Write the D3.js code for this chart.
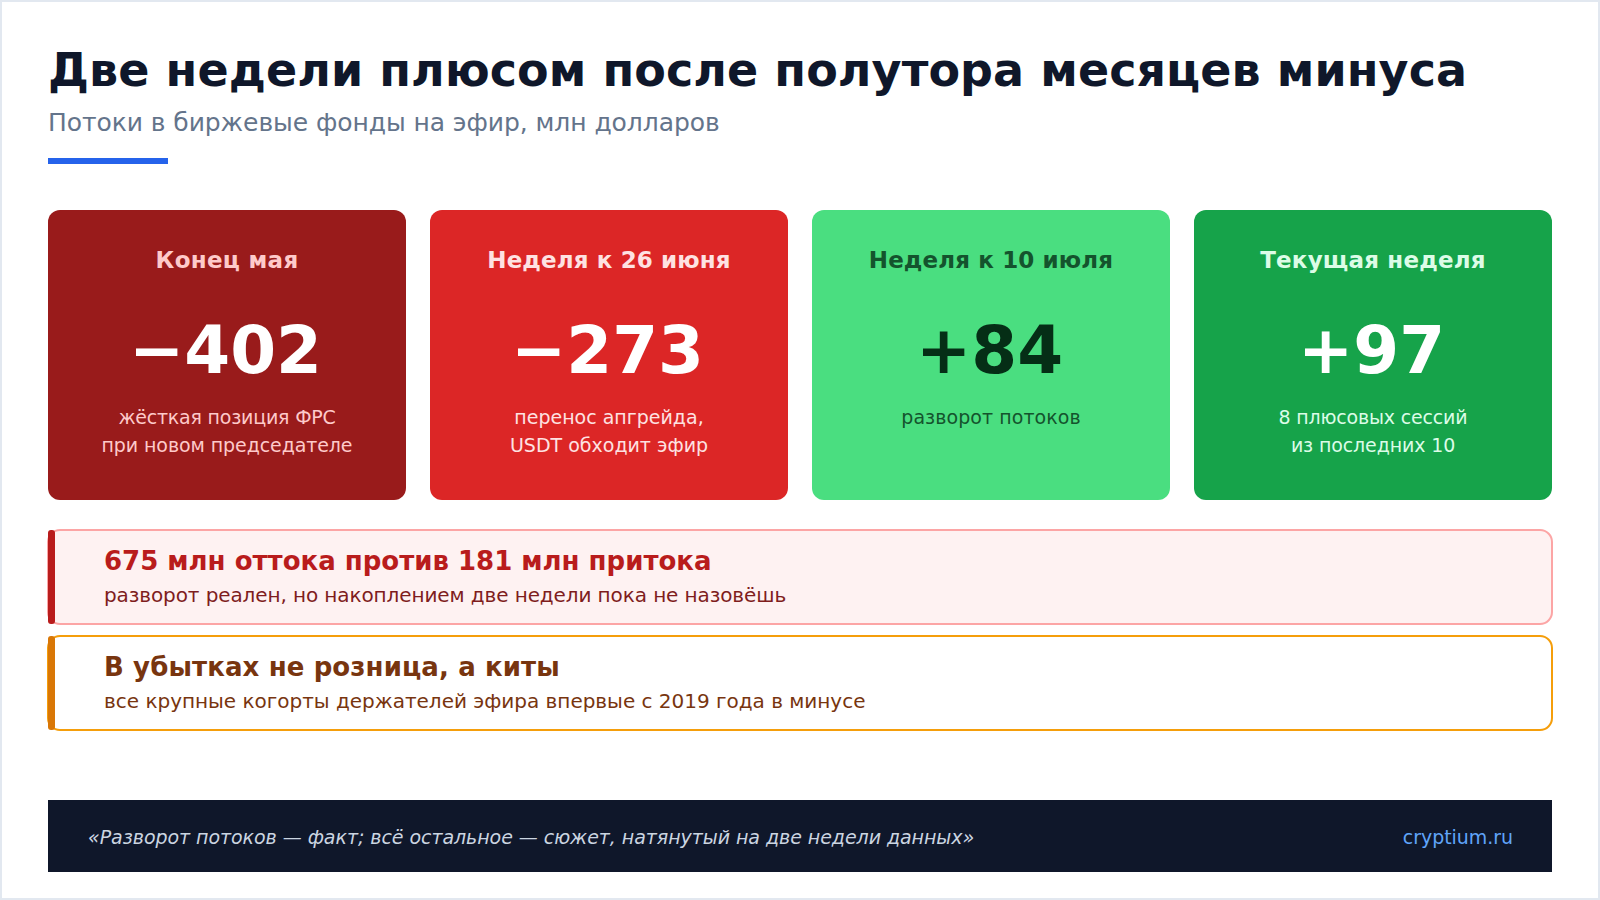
<!DOCTYPE html>
<html lang="ru"><head><meta charset="utf-8">
<script src="https://cdn.jsdelivr.net/npm/d3@7"></script>
<style>html,body{margin:0;padding:0;background:#fff;overflow:hidden}svg{display:block}text{font-family:"DejaVu Sans",sans-serif}</style>
</head><body><svg id="c" width="1600" height="900"></svg>
<script>
const titleText = "Две недели плюсом после полутора месяцев минуса";
const subtitleText = "Потоки в биржевые фонды на эфир, млн долларов";
const periods = ["Конец мая","Неделя к 26 июня","Неделя к 10 июля","Текущая неделя"];
const flows = [-402,-273,84,97];
const notes = [["жёсткая позиция ФРС","при новом председателе"],["перенос апгрейда,","USDT обходит эфир"],["разворот потоков"],["8 плюсовых сессий","из последних 10"]];
const calloutHeads = ["675 млн оттока против 181 млн притока","В убытках не розница, а киты"];
const calloutSubs = ["разворот реален, но накоплением две недели пока не назовёшь","все крупные когорты держателей эфира впервые с 2019 года в минусе"];
const footerQuote = "«Разворот потоков — факт; всё остальное — сюжет, натянутый на две недели данных»";
const footerSource = "cryptium.ru";

const cardFill = ["#991b1b","#dc2626","#4ade80","#16a34a"];
const cardHead = ["#fecaca","#fee2e2","#14532d","#dcfce7"];
const cardValue = ["#ffffff","#ffffff","#052e16","#ffffff"];
const cardNote = ["#fecaca","#fee2e2","#14532d","#dcfce7"];
const headTrack = [0.3,0.13,0.13,0.2];
const noteTrack = [[-0.21,-0.09],[0,0],[0.06],[-0.18,-0.13]];
const calloutStyle = [
 {fill:"#fef2f2",stroke:"#fca5a5",bar:"#b91c1c",head:"#b91c1c",sub:"#7f1d1d",headTrack:0,subTrack:-0.1},
 {fill:"#ffffff",stroke:"#f59e0b",bar:"#d97706",head:"#78350f",sub:"#78350f",headTrack:0.11,subTrack:-0.015}];

const svg = d3.select("#c");
svg.append("rect").attr("x",1).attr("y",1).attr("width",1598).attr("height",898).attr("fill","#fff").attr("stroke","#e2e8f0").attr("stroke-width",2);
svg.append("text").attr("x",48).attr("y",86).attr("font-size",46).attr("letter-spacing",0.065).attr("font-weight",700).attr("fill","#0f172a").text(titleText);
svg.append("text").attr("x",48).attr("y",131).attr("font-size",25).attr("letter-spacing",-0.07).attr("fill","#64748b").text(subtitleText);
svg.append("rect").attr("x",48).attr("y",158).attr("width",120).attr("height",6).attr("fill","#2563eb");

const x = d3.scaleBand().domain(d3.range(periods.length)).range([48,1552]).paddingInner(24/382).paddingOuter(0);
const fmt = v => (v<0?"\u2212":"+")+Math.abs(v);
const bw = x.bandwidth();
const cards = svg.selectAll("g.card").data(periods.map((p,i)=>({p,i,v:flows[i],n:notes[i]}))).join("g").attr("class","card")
  .attr("transform",d=>`translate(${x(d.i)},210)`);
cards.append("rect").attr("width",bw).attr("height",290).attr("rx",12).attr("fill",d=>cardFill[d.i]);
cards.append("text").attr("x",bw/2).attr("y",58).attr("text-anchor","middle").attr("font-size",23).attr("letter-spacing",d=>headTrack[d.i]).attr("font-weight",700).attr("fill",d=>cardHead[d.i]).text(d=>d.p);
cards.append("text").attr("x",bw/2-1.5).attr("y",163).attr("text-anchor","middle").attr("font-size",66).attr("font-weight",700).attr("fill",d=>cardValue[d.i]).text(d=>fmt(d.v));
cards.each(function(d){
  d3.select(this).selectAll("text.note").data(d.n).join("text").attr("class","note").attr("x",bw/2).attr("y",(t,j)=>214+j*28).attr("text-anchor","middle").attr("font-size",19).attr("letter-spacing",(t,j)=>noteTrack[d.i][j]).attr("fill",cardNote[d.i]).text(t=>t);
});

const cy = d3.scaleBand().domain(d3.range(calloutHeads.length)).range([530,730]).paddingInner(12/106).paddingOuter(0);
const co = svg.selectAll("g.callout").data(calloutHeads.map((h,i)=>({h,i,s:calloutSubs[i]}))).join("g").attr("class","callout").attr("transform",d=>`translate(48,${cy(d.i)})`);
co.append("rect").attr("width",1504).attr("height",cy.bandwidth()).attr("rx",12).attr("fill",d=>calloutStyle[d.i].fill).attr("stroke",d=>calloutStyle[d.i].stroke).attr("stroke-width",2);
co.append("rect").attr("width",7).attr("height",cy.bandwidth()).attr("rx",3).attr("fill",d=>calloutStyle[d.i].bar);
co.append("text").attr("x",56).attr("y",40).attr("font-size",26).attr("letter-spacing",d=>calloutStyle[d.i].headTrack).attr("font-weight",700).attr("fill",d=>calloutStyle[d.i].head).text(d=>d.h);
co.append("text").attr("x",56).attr("y",72).attr("font-size",20).attr("letter-spacing",d=>calloutStyle[d.i].subTrack).attr("fill",d=>calloutStyle[d.i].sub).text(d=>d.s);

svg.append("rect").attr("x",48).attr("y",800).attr("width",1504).attr("height",72).attr("fill","#0f172a");
svg.append("text").attr("x",88).attr("y",844).attr("font-size",19).attr("letter-spacing",-0.05).attr("font-style","italic").attr("fill","#cbd5e1").text(footerQuote);
svg.append("text").attr("x",1513).attr("y",844).attr("text-anchor","end").attr("font-size",19).attr("letter-spacing",-0.05).attr("fill","#60a5fa").text(footerSource);
</script></body></html>
